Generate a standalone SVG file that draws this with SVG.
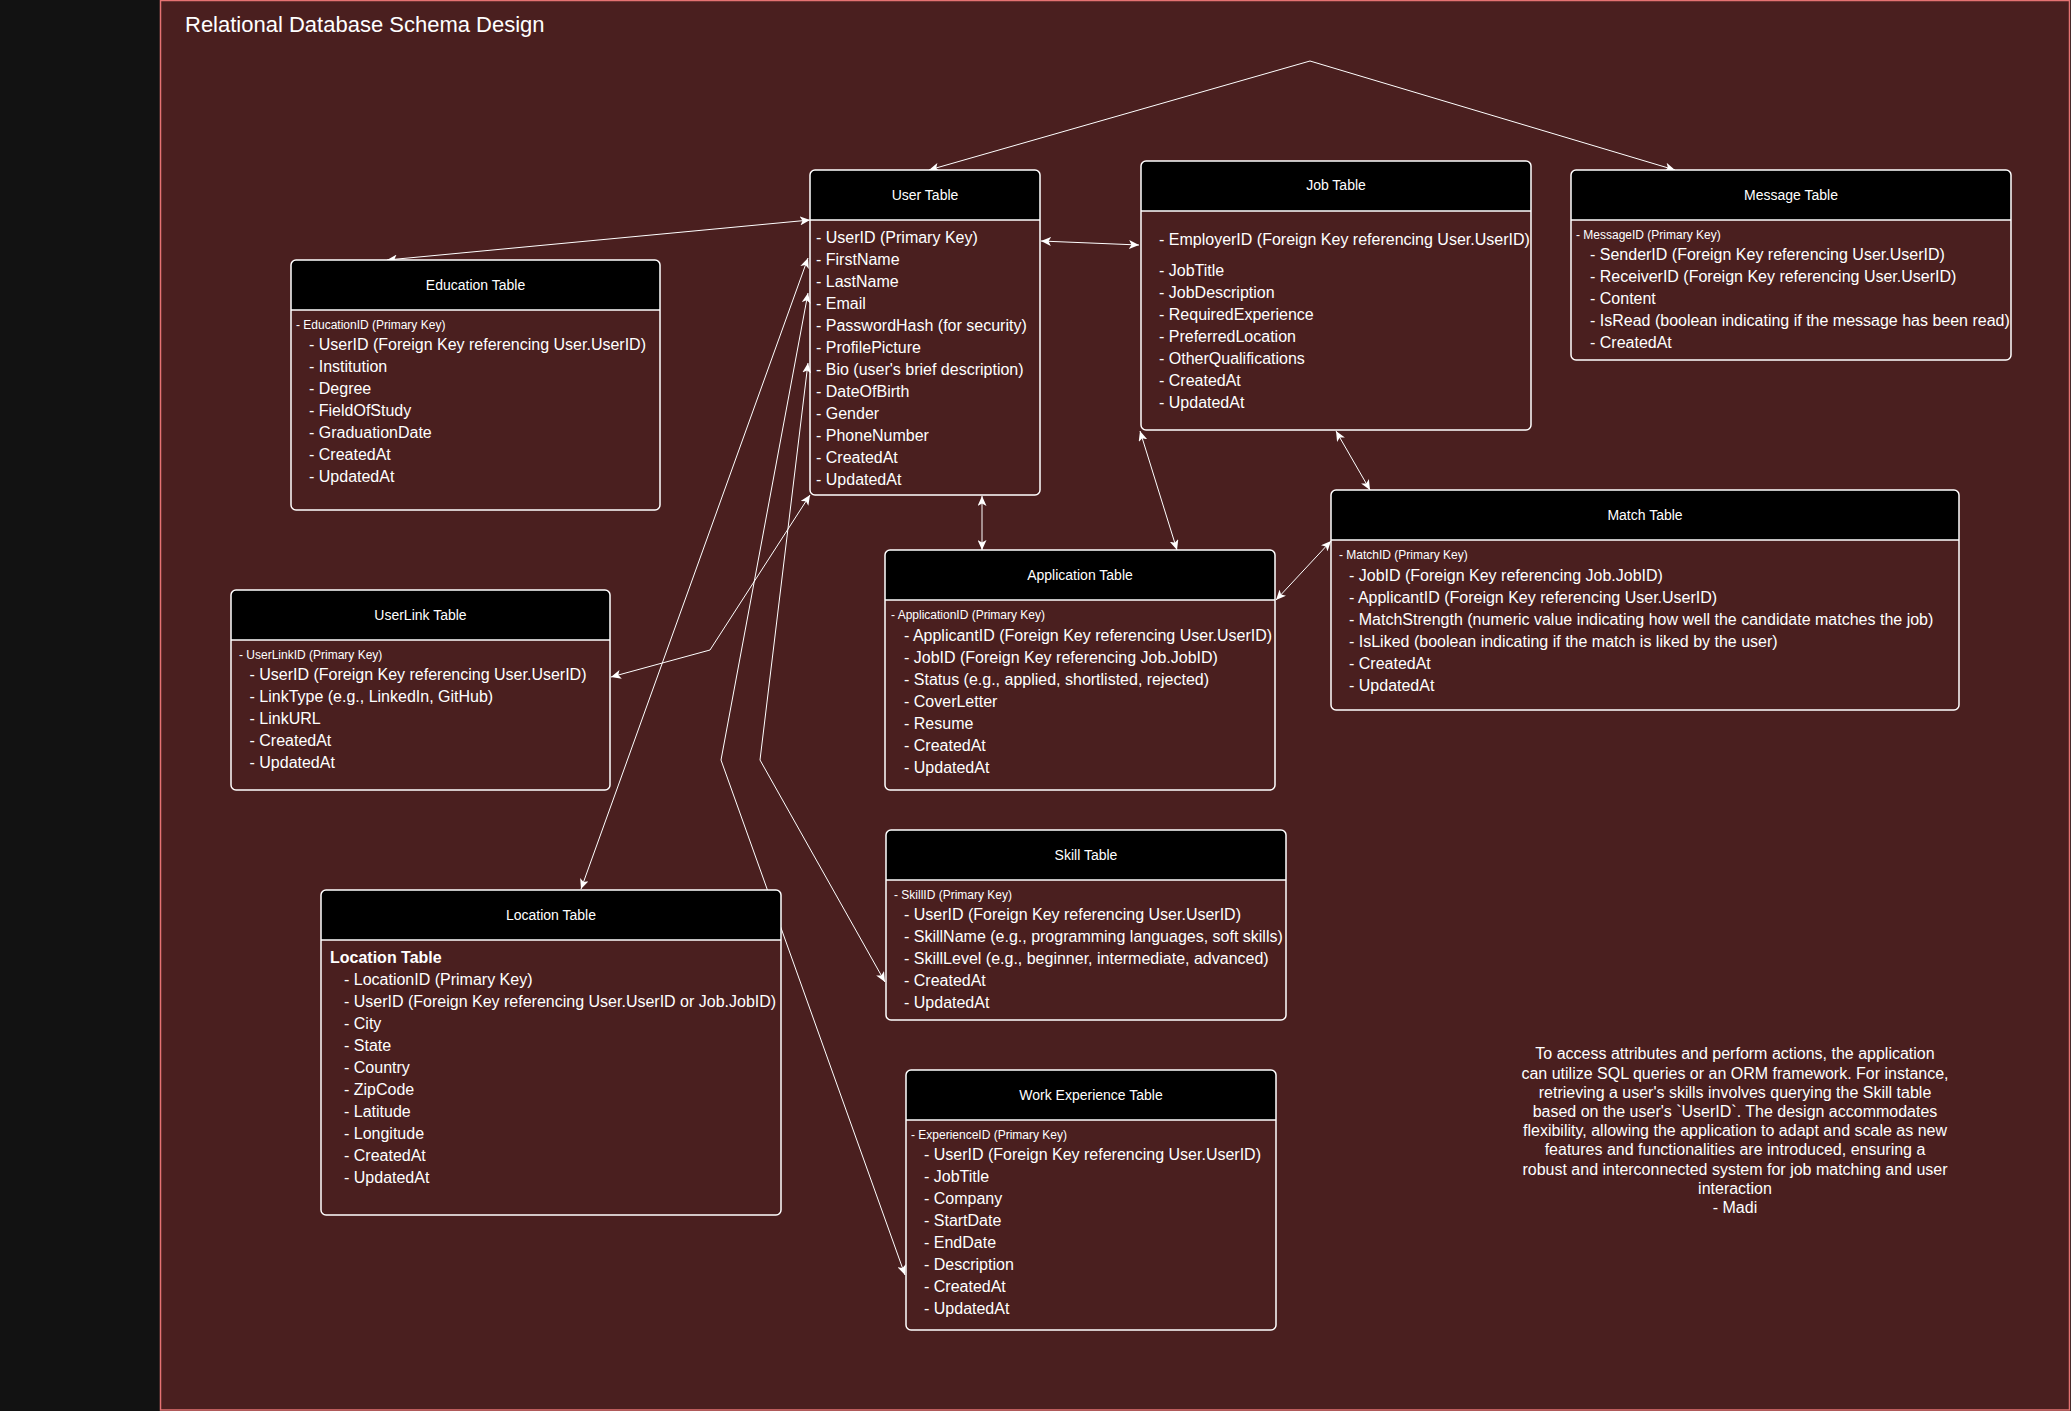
<svg xmlns="http://www.w3.org/2000/svg" width="2071" height="1411" viewBox="0 0 2071 1411">
<style>
text{font-family:"Liberation Sans",Arial,sans-serif;fill:#ffffff}
.t{font-size:14px;text-anchor:middle}
.r{font-size:16px}
.s{font-size:12px}
.b{font-size:16px;font-weight:bold}
.frame{fill:none;stroke:#ffffff;stroke-width:1.5}
.hdr{fill:#000000}
.div{stroke:#ffffff;stroke-width:1.5}
.c{fill:none;stroke:#ffffff;stroke-width:1;marker-start:url(#ar);marker-end:url(#ar)}
.note{font-size:16px;text-anchor:middle}
</style>
<defs>
<marker id="ar" markerUnits="userSpaceOnUse" markerWidth="11" markerHeight="9" refX="10" refY="4.5" orient="auto-start-reverse" viewBox="0 0 11 9">
<path d="M0,0 L10,4.5 L0,9 L2.5,4.5 Z" fill="#ffffff"/>
</marker>
</defs>
<rect x="0" y="0" width="2071" height="1411" fill="#121212"/>
<rect x="160.5" y="0.5" width="1909" height="1409.5" fill="#4a1f1f" stroke="#e57373" stroke-width="1.5"/>
<text x="185" y="32" style="font-size:22px">Relational Database Schema Design</text>

<g id="connectors">
<polyline class="c" points="929,170 1310,61 1675,170"/>
<line class="c" x1="387" y1="260" x2="810" y2="220"/>
<line class="c" x1="1041" y1="241" x2="1139" y2="245"/>
<line class="c" x1="982" y1="496" x2="982" y2="550"/>
<line class="c" x1="1140" y1="431" x2="1177" y2="550"/>
<line class="c" x1="1336" y1="431" x2="1370" y2="490"/>
<line class="c" x1="1276" y1="600" x2="1331" y2="541"/>
<polyline class="c" points="810,495 710,650 611,677"/>
<line class="c" x1="808" y1="258" x2="581" y2="889"/>
<polyline class="c" points="808,363 760,760 885,982"/>
<polyline class="c" points="808,293 721,760 905,1275"/>
</g>

<g id="user-table">
<path class="hdr" d="M810,220 L810,175 Q810,170 815,170 L1035,170 Q1040,170 1040,175 L1040,220 Z"/>
<rect class="frame" x="810" y="170" width="230" height="325" rx="5"/>
<line class="div" x1="810" y1="220" x2="1040" y2="220"/>
<text class="t" x="925" y="200">User Table</text>
<text class="r" x="816" y="243">- UserID (Primary Key)</text>
<text class="r" x="816" y="265">- FirstName</text>
<text class="r" x="816" y="287">- LastName</text>
<text class="r" x="816" y="309">- Email</text>
<text class="r" x="816" y="331">- PasswordHash (for security)</text>
<text class="r" x="816" y="353">- ProfilePicture</text>
<text class="r" x="816" y="375">- Bio (user's brief description)</text>
<text class="r" x="816" y="397">- DateOfBirth</text>
<text class="r" x="816" y="419">- Gender</text>
<text class="r" x="816" y="441">- PhoneNumber</text>
<text class="r" x="816" y="463">- CreatedAt</text>
<text class="r" x="816" y="485">- UpdatedAt</text>
</g>

<g id="job-table">
<path class="hdr" d="M1141,211 L1141,166 Q1141,161 1146,161 L1526,161 Q1531,161 1531,166 L1531,211 Z"/>
<rect class="frame" x="1141" y="161" width="390" height="269" rx="5"/>
<line class="div" x1="1141" y1="211" x2="1531" y2="211"/>
<text class="t" x="1336" y="190">Job Table</text>
<text class="r" x="1159" y="244.5">- EmployerID (Foreign Key referencing User.UserID)</text>
<text class="r" x="1159" y="276">- JobTitle</text>
<text class="r" x="1159" y="298">- JobDescription</text>
<text class="r" x="1159" y="320">- RequiredExperience</text>
<text class="r" x="1159" y="342">- PreferredLocation</text>
<text class="r" x="1159" y="364">- OtherQualifications</text>
<text class="r" x="1159" y="386">- CreatedAt</text>
<text class="r" x="1159" y="408">- UpdatedAt</text>
</g>

<g id="message-table">
<path class="hdr" d="M1571,220 L1571,175 Q1571,170 1576,170 L2006,170 Q2011,170 2011,175 L2011,220 Z"/>
<rect class="frame" x="1571" y="170" width="440" height="190" rx="5"/>
<line class="div" x1="1571" y1="220" x2="2011" y2="220"/>
<text class="t" x="1791" y="200">Message Table</text>
<text class="s" x="1576" y="239">- MessageID (Primary Key)</text>
<text class="r" x="1590" y="260">- SenderID (Foreign Key referencing User.UserID)</text>
<text class="r" x="1590" y="282">- ReceiverID (Foreign Key referencing User.UserID)</text>
<text class="r" x="1590" y="304">- Content</text>
<text class="r" x="1590" y="326">- IsRead (boolean indicating if the message has been read)</text>
<text class="r" x="1590" y="348">- CreatedAt</text>
</g>

<g id="education-table">
<path class="hdr" d="M291,310 L291,265 Q291,260 296,260 L655,260 Q660,260 660,265 L660,310 Z"/>
<rect class="frame" x="291" y="260" width="369" height="250" rx="5"/>
<line class="div" x1="291" y1="310" x2="660" y2="310"/>
<text class="t" x="475.5" y="290">Education Table</text>
<text class="s" x="296" y="329">- EducationID (Primary Key)</text>
<text class="r" x="309" y="350">- UserID (Foreign Key referencing User.UserID)</text>
<text class="r" x="309" y="372">- Institution</text>
<text class="r" x="309" y="394">- Degree</text>
<text class="r" x="309" y="416">- FieldOfStudy</text>
<text class="r" x="309" y="438">- GraduationDate</text>
<text class="r" x="309" y="460">- CreatedAt</text>
<text class="r" x="309" y="482">- UpdatedAt</text>
</g>

<g id="userlink-table">
<path class="hdr" d="M231,640 L231,595 Q231,590 236,590 L605,590 Q610,590 610,595 L610,640 Z"/>
<rect class="frame" x="231" y="590" width="379" height="200" rx="5"/>
<line class="div" x1="231" y1="640" x2="610" y2="640"/>
<text class="t" x="420.5" y="620">UserLink Table</text>
<text class="s" x="239" y="659">- UserLinkID (Primary Key)</text>
<text class="r" x="249.5" y="680">- UserID (Foreign Key referencing User.UserID)</text>
<text class="r" x="249.5" y="702">- LinkType (e.g., LinkedIn, GitHub)</text>
<text class="r" x="249.5" y="724">- LinkURL</text>
<text class="r" x="249.5" y="746">- CreatedAt</text>
<text class="r" x="249.5" y="768">- UpdatedAt</text>
</g>

<g id="application-table">
<path class="hdr" d="M885,600 L885,555 Q885,550 890,550 L1270,550 Q1275,550 1275,555 L1275,600 Z"/>
<rect class="frame" x="885" y="550" width="390" height="240" rx="5"/>
<line class="div" x1="885" y1="600" x2="1275" y2="600"/>
<text class="t" x="1080" y="580">Application Table</text>
<text class="s" x="891" y="619">- ApplicationID (Primary Key)</text>
<text class="r" x="904" y="641">- ApplicantID (Foreign Key referencing User.UserID)</text>
<text class="r" x="904" y="663">- JobID (Foreign Key referencing Job.JobID)</text>
<text class="r" x="904" y="685">- Status (e.g., applied, shortlisted, rejected)</text>
<text class="r" x="904" y="707">- CoverLetter</text>
<text class="r" x="904" y="729">- Resume</text>
<text class="r" x="904" y="751">- CreatedAt</text>
<text class="r" x="904" y="773">- UpdatedAt</text>
</g>

<g id="match-table">
<path class="hdr" d="M1331,540 L1331,495 Q1331,490 1336,490 L1954,490 Q1959,490 1959,495 L1959,540 Z"/>
<rect class="frame" x="1331" y="490" width="628" height="220" rx="5"/>
<line class="div" x1="1331" y1="540" x2="1959" y2="540"/>
<text class="t" x="1645" y="520">Match Table</text>
<text class="s" x="1339" y="559">- MatchID (Primary Key)</text>
<text class="r" x="1349" y="581">- JobID (Foreign Key referencing Job.JobID)</text>
<text class="r" x="1349" y="603">- ApplicantID (Foreign Key referencing User.UserID)</text>
<text class="r" x="1349" y="625">- MatchStrength (numeric value indicating how well the candidate matches the job)</text>
<text class="r" x="1349" y="647">- IsLiked (boolean indicating if the match is liked by the user)</text>
<text class="r" x="1349" y="669">- CreatedAt</text>
<text class="r" x="1349" y="691">- UpdatedAt</text>
</g>

<g id="location-table">
<path class="hdr" d="M321,940 L321,895 Q321,890 326,890 L776,890 Q781,890 781,895 L781,940 Z"/>
<rect class="frame" x="321" y="890" width="460" height="325" rx="5"/>
<line class="div" x1="321" y1="940" x2="781" y2="940"/>
<text class="t" x="551" y="920">Location Table</text>
<text class="b" x="330" y="963">Location Table</text>
<text class="r" x="344" y="985">- LocationID (Primary Key)</text>
<text class="r" x="344" y="1007">- UserID (Foreign Key referencing User.UserID or Job.JobID)</text>
<text class="r" x="344" y="1029">- City</text>
<text class="r" x="344" y="1051">- State</text>
<text class="r" x="344" y="1073">- Country</text>
<text class="r" x="344" y="1095">- ZipCode</text>
<text class="r" x="344" y="1117">- Latitude</text>
<text class="r" x="344" y="1139">- Longitude</text>
<text class="r" x="344" y="1161">- CreatedAt</text>
<text class="r" x="344" y="1183">- UpdatedAt</text>
</g>

<g id="skill-table">
<path class="hdr" d="M886,880 L886,835 Q886,830 891,830 L1281,830 Q1286,830 1286,835 L1286,880 Z"/>
<rect class="frame" x="886" y="830" width="400" height="190" rx="5"/>
<line class="div" x1="886" y1="880" x2="1286" y2="880"/>
<text class="t" x="1086" y="860">Skill Table</text>
<text class="s" x="894" y="899">- SkillID (Primary Key)</text>
<text class="r" x="904" y="920">- UserID (Foreign Key referencing User.UserID)</text>
<text class="r" x="904" y="942">- SkillName (e.g., programming languages, soft skills)</text>
<text class="r" x="904" y="964">- SkillLevel (e.g., beginner, intermediate, advanced)</text>
<text class="r" x="904" y="986">- CreatedAt</text>
<text class="r" x="904" y="1008">- UpdatedAt</text>
</g>

<g id="work-experience-table">
<path class="hdr" d="M906,1120 L906,1075 Q906,1070 911,1070 L1271,1070 Q1276,1070 1276,1075 L1276,1120 Z"/>
<rect class="frame" x="906" y="1070" width="370" height="260" rx="5"/>
<line class="div" x1="906" y1="1120" x2="1276" y2="1120"/>
<text class="t" x="1091" y="1100">Work Experience Table</text>
<text class="s" x="911" y="1139">- ExperienceID (Primary Key)</text>
<text class="r" x="924" y="1160">- UserID (Foreign Key referencing User.UserID)</text>
<text class="r" x="924" y="1182">- JobTitle</text>
<text class="r" x="924" y="1204">- Company</text>
<text class="r" x="924" y="1226">- StartDate</text>
<text class="r" x="924" y="1248">- EndDate</text>
<text class="r" x="924" y="1270">- Description</text>
<text class="r" x="924" y="1292">- CreatedAt</text>
<text class="r" x="924" y="1314">- UpdatedAt</text>
</g>

<g id="note">
<text class="note" x="1735" y="1059.3">To access attributes and perform actions, the application</text>
<text class="note" x="1735" y="1078.5">can utilize SQL queries or an ORM framework. For instance,</text>
<text class="note" x="1735" y="1097.7">retrieving a user's skills involves querying the Skill table</text>
<text class="note" x="1735" y="1116.9">based on the user's `UserID`. The design accommodates</text>
<text class="note" x="1735" y="1136.1">flexibility, allowing the application to adapt and scale as new</text>
<text class="note" x="1735" y="1155.3">features and functionalities are introduced, ensuring a</text>
<text class="note" x="1735" y="1174.5">robust and interconnected system for job matching and user</text>
<text class="note" x="1735" y="1193.7">interaction</text>
<text class="note" x="1735" y="1212.9">- Madi</text>
</g>
</svg>
